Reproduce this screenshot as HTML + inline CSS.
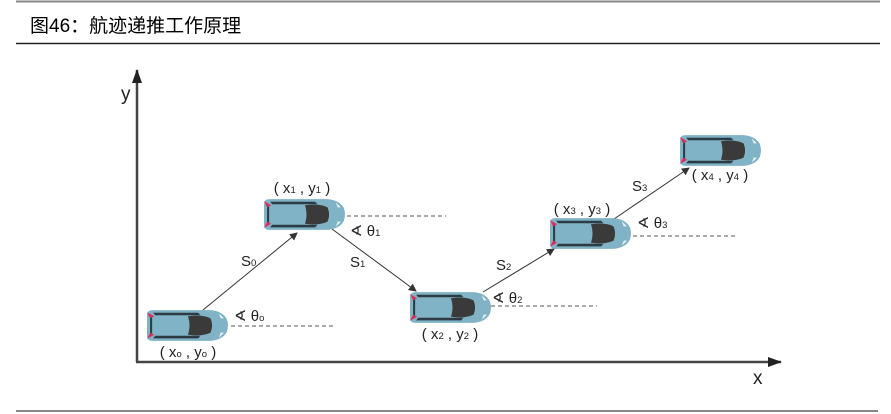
<!DOCTYPE html>
<html><head><meta charset="utf-8"><style>
html,body{margin:0;padding:0;background:#fff;width:891px;height:414px;overflow:hidden}
svg{display:block}
text{font-family:"Liberation Sans","Noto Sans CJK SC",sans-serif;fill:#222}
.s{font-size:9.5px}
</style></head><body>
<svg width="891" height="414" viewBox="0 0 891 414">
<defs>
<marker id="ah" markerWidth="8" markerHeight="8" refX="7" refY="4" orient="auto" markerUnits="userSpaceOnUse">
<path d="M0,0 L8,4 L0,8 z" fill="#333"/></marker>
<marker id="ax" markerWidth="14" markerHeight="10" refX="13" refY="5" orient="auto" markerUnits="userSpaceOnUse">
<path d="M0,0 L14,5 L0,10 z" fill="#222"/></marker>
<symbol id="car" viewBox="0 0 80 32">
<path d="M5,1 H62 Q74,2 78,10 Q80,16 78,22 Q74,30 62,31 H5 Q0,31 0,26 V6 Q0,1 5,1z" fill="#7fb3c5"/>
<path d="M6,3.5 H50 L52,6 H8z M6,28.5 H50 L52,26 H8z" fill="#2c3b44"/>
<path d="M3,7 H5 V25 H3z" fill="#2c3b44"/>
<path d="M40,7 Q54,5 62,9 Q65,16 62,23 Q54,27 40,25 Q43,16 40,7z" fill="#3b3a3a"/>
<path d="M0,3 L7,7 L3,9z M0,29 L7,25 L3,23z" fill="#d8305a"/>
<path d="M70,4 L75,9 L72,9z M70,28 L75,23 L72,23z" fill="#eef7fa"/>
</symbol>
</defs>
<line x1="16" y1="1.5" x2="880" y2="1.5" stroke="#888" stroke-width="2"/>
<text x="30" y="32" font-size="19" style="fill:#000">图46：航迹递推工作原理</text>
<line x1="16" y1="43.5" x2="880" y2="43.5" stroke="#222" stroke-width="1.5"/>
<line x1="16" y1="411" x2="878" y2="411" stroke="#888" stroke-width="2"/>
<line x1="137" y1="362" x2="137" y2="70" stroke="#444" stroke-width="2.5" marker-end="url(#ax)"/>
<line x1="136" y1="362" x2="781" y2="362" stroke="#444" stroke-width="2.5" marker-end="url(#ax)"/>
<text x="121" y="100" font-size="19">y</text>
<text x="753" y="384" font-size="19">x</text>
<g stroke="#555" stroke-width="1" stroke-dasharray="4,3">
<line x1="231" y1="326" x2="335" y2="326"/>
<line x1="347" y1="216" x2="446" y2="216"/>
<line x1="491" y1="306" x2="597" y2="306"/>
<line x1="633" y1="236" x2="735" y2="236"/>
</g>
<g stroke="#333" stroke-width="1" marker-end="url(#ah)">
<line x1="203" y1="310" x2="297" y2="233"/>
<line x1="332" y1="229" x2="416" y2="291"/>
<line x1="483" y1="292" x2="554" y2="249"/>
<line x1="614" y1="219" x2="689" y2="168"/>
</g>
<use href="#car" x="147" y="309" width="82" height="33"/>
<use href="#car" x="264" y="198" width="82" height="33"/>
<use href="#car" x="410" y="291" width="82" height="33"/>
<use href="#car" x="550" y="217" width="82" height="33"/>
<use href="#car" x="680" y="134" width="82" height="33"/>
<g font-size="15">
<text x="234" y="321">∢ θ<tspan class="s">o</tspan></text>
<text x="350" y="236">∢ θ<tspan class="s">1</tspan></text>
<text x="492" y="303">∢ θ<tspan class="s">2</tspan></text>
<text x="637" y="228">∢ θ<tspan class="s">3</tspan></text>
<text x="241" y="266">S<tspan class="s">0</tspan></text>
<text x="350" y="267">S<tspan class="s">1</tspan></text>
<text x="496" y="270">S<tspan class="s">2</tspan></text>
<text x="632" y="191">S<tspan class="s">3</tspan></text>
<text x="188" y="357" text-anchor="middle">( x<tspan class="s">o</tspan> , y<tspan class="s">o</tspan> )</text>
<text x="302" y="193" text-anchor="middle">( x<tspan class="s">1</tspan> , y<tspan class="s">1</tspan> )</text>
<text x="450" y="339" text-anchor="middle">( x<tspan class="s">2</tspan> , y<tspan class="s">2</tspan> )</text>
<text x="582" y="214" text-anchor="middle">( x<tspan class="s">3</tspan> , y<tspan class="s">3</tspan> )</text>
<text x="720" y="180" text-anchor="middle">( x<tspan class="s">4</tspan> , y<tspan class="s">4</tspan> )</text>
</g>
</svg>
</body></html>
